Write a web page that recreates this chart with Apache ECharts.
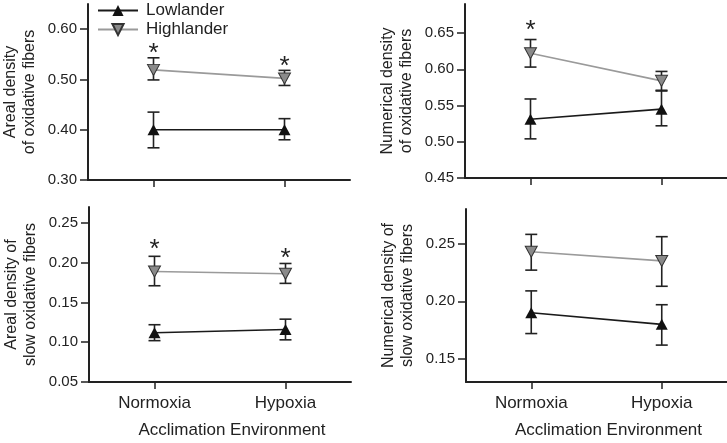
<!DOCTYPE html>
<html>
<head>
<meta charset="utf-8">
<script src="https://cdn.jsdelivr.net/npm/echarts@6/dist/echarts.min.js"></script>
<style>
  html, body { margin: 0; padding: 0; background: #fff; }
  #chart1 { width: 727px; height: 443px; }
</style>
</head>
<body>
<div id="chart1"></div>
<script>
var categories = ['Normoxia', 'Hypoxia'];

// top left: areal density of oxidative fibers
var aLow = [0.400, 0.400];
var aLowErr = [[0.364, 0.435], [0.380, 0.422]];
var aHigh = [0.519, 0.502];
var aHighErr = [[0.499, 0.543], [0.488, 0.518]];
var aStars = [[0, 0.563], [1, 0.537]];
var aTicks = [0.30, 0.40, 0.50, 0.60];

// top right: numerical density of oxidative fibers
var bLow = [0.531, 0.545];
var bLowErr = [[0.504, 0.559], [0.522, 0.570]];
var bHigh = [0.622, 0.584];
var bHighErr = [[0.603, 0.641], [0.571, 0.597]];
var bStars = [[0, 0.661]];
var bTicks = [0.45, 0.50, 0.55, 0.60, 0.65];

// bottom left: areal density of slow oxidative fibers
var cLow = [0.112, 0.116];
var cLowErr = [[0.102, 0.122], [0.103, 0.129]];
var cHigh = [0.189, 0.186];
var cHighErr = [[0.171, 0.208], [0.174, 0.199]];
var cStars = [[0, 0.224], [1, 0.212]];
var cTicks = [0.05, 0.10, 0.15, 0.20, 0.25];

// bottom right: numerical density of slow oxidative fibers
var dLow = [0.190, 0.180];
var dLowErr = [[0.172, 0.209], [0.162, 0.197]];
var dHigh = [0.243, 0.235];
var dHighErr = [[0.227, 0.258], [0.213, 0.256]];
var dStars = [];
var dTicks = [0.15, 0.20, 0.25];

var FONT = 'Liberation Sans';
var INK = '#222';
var downTri = 'path://M0,0 L10,0 L5,9 Z';

function errRender(params, api) {
    var x = api.value(0);
    var top = api.coord([x, api.value(2)]);
    var bot = api.coord([x, api.value(1)]);
    var w = 6;
    var st = { stroke: INK, lineWidth: 1.6 };
    return {
        type: 'group',
        children: [
            { type: 'line', shape: { x1: top[0], y1: top[1], x2: bot[0], y2: bot[1] }, style: st },
            { type: 'line', shape: { x1: top[0] - w, y1: top[1], x2: top[0] + w, y2: top[1] }, style: st },
            { type: 'line', shape: { x1: bot[0] - w, y1: bot[1], x2: bot[0] + w, y2: bot[1] }, style: st }
        ]
    };
}

function starRender(params, api) {
    var p = api.coord([api.value(0), api.value(1)]);
    return {
        type: 'text',
        x: p[0],
        y: p[1] + 6,
        style: { text: '*', fill: INK, font: '26px ' + FONT, align: 'center', verticalAlign: 'middle' }
    };
}

function errData(lowErr, highErr) {
    var out = [];
    for (var i = 0; i < lowErr.length; i++) out.push([i, lowErr[i][0], lowErr[i][1]]);
    for (var j = 0; j < highErr.length; j++) out.push([j, highErr[j][0], highErr[j][1]]);
    return out;
}

function panelSeries(idx, low, lowErr, high, highErr, stars) {
    return [
        {
            type: 'custom', xAxisIndex: idx, yAxisIndex: idx, z: 1,
            renderItem: errRender, data: errData(lowErr, highErr), silent: true
        },
        {
            name: 'Lowlander', type: 'line', xAxisIndex: idx, yAxisIndex: idx, z: 3,
            data: low, symbol: 'triangle', symbolSize: [12, 11],
            lineStyle: { color: '#1a1a1a', width: 1.6 },
            itemStyle: { color: '#111', borderColor: '#111', borderWidth: 0 }
        },
        {
            name: 'Highlander', type: 'line', xAxisIndex: idx, yAxisIndex: idx, z: 3,
            data: high, symbol: downTri, symbolSize: [12, 11],
            lineStyle: { color: '#9a9a9a', width: 1.6 },
            itemStyle: { color: '#8a8a8a', borderColor: '#333', borderWidth: 1 }
        },
        {
            type: 'custom', xAxisIndex: idx, yAxisIndex: idx, z: 4,
            renderItem: starRender, data: stars, silent: true
        }
    ];
}

function xAxis(idx, bottom) {
    return {
        type: 'category', gridIndex: idx, data: categories, boundaryGap: true,
        axisLine: { lineStyle: { color: INK, width: 2 } },
        axisTick: { show: true, alignWithLabel: true, length: 7, lineStyle: { color: INK, width: 1.5 } },
        axisLabel: { show: bottom, color: INK, fontFamily: FONT, fontSize: 17, margin: 13 },
        name: bottom ? 'Acclimation Environment' : '',
        nameLocation: 'middle', nameGap: 40,
        nameTextStyle: { color: INK, fontFamily: FONT, fontSize: 17, padding: [0, 0, 0, 24] },
        splitLine: { show: false }
    };
}

function yAxis(idx, min, max, ticks, title) {
    return {
        type: 'value', gridIndex: idx, min: min, max: max,
        name: title, nameLocation: 'middle', nameGap: 49,
        nameTextStyle: { color: INK, fontFamily: FONT, fontSize: 16, lineHeight: 19 },
        axisLine: { show: true, lineStyle: { color: INK, width: 2 } },
        axisTick: { show: true, length: 8, customValues: ticks, lineStyle: { color: INK, width: 1.5 } },
        axisLabel: {
            color: INK, fontFamily: FONT, fontSize: 15, margin: 11, customValues: ticks,
            formatter: function (v) { return v.toFixed(2); }
        },
        splitLine: { show: false }
    };
}

var chart = echarts.init(document.getElementById('chart1'));

var option = {
    animation: false,
    backgroundColor: '#fff',
    legend: {
        data: ['Lowlander', 'Highlander'],
        orient: 'vertical', left: 92, top: -3,
        itemWidth: 40, itemHeight: 14, itemGap: 2,
        textStyle: { color: INK, fontFamily: FONT, fontSize: 17, padding: [0, 0, 0, 3] }
    },
    grid: [
        { left: 88, top: 4, width: 262, height: 176 },
        { left: 465, top: 4, width: 262, height: 174 },
        { left: 89, top: 207, width: 262, height: 175 },
        { left: 466, top: 209, width: 261, height: 173 }
    ],
    xAxis: [xAxis(0, false), xAxis(1, false), xAxis(2, true), xAxis(3, true)],
    yAxis: [
        yAxis(0, 0.30, 0.65, aTicks, 'Areal density\nof oxidative fibers'),
        yAxis(1, 0.45, 0.69, bTicks, 'Numerical density\nof oxidative fibers'),
        yAxis(2, 0.05, 0.27, cTicks, 'Areal density of\nslow oxidative fibers'),
        yAxis(3, 0.13, 0.28, dTicks, 'Numerical density of\nslow oxidative fibers')
    ],
    series: [].concat(
        panelSeries(0, aLow, aLowErr, aHigh, aHighErr, aStars),
        panelSeries(1, bLow, bLowErr, bHigh, bHighErr, bStars),
        panelSeries(2, cLow, cLowErr, cHigh, cHighErr, cStars),
        panelSeries(3, dLow, dLowErr, dHigh, dHighErr, dStars)
    )
};

chart.setOption(option, true);
</script>
</body>
</html>
